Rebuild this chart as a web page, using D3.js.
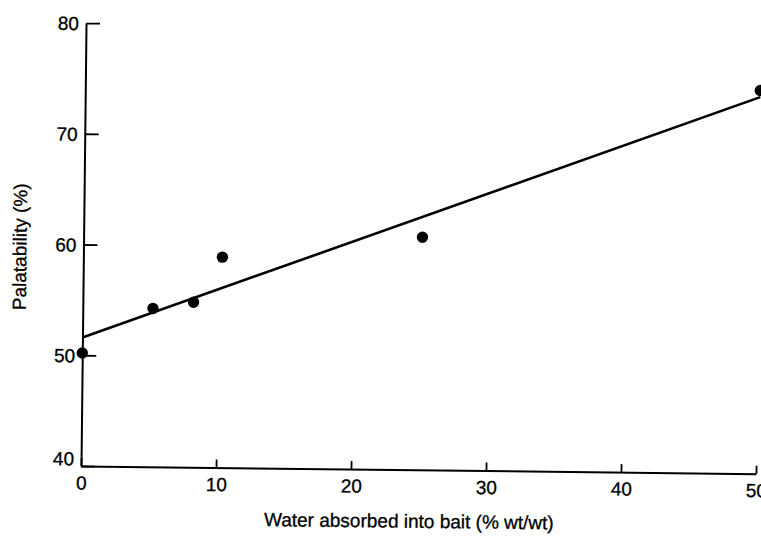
<!DOCTYPE html>
<html>
<head>
<meta charset="utf-8">
<script src="https://cdn.jsdelivr.net/npm/d3@7"></script>
<style>
  html, body { margin: 0; padding: 0; background: #fff; }
  svg { display: block; }
  text { font-family: "Liberation Sans", Arial, Helvetica, sans-serif; fill: #000; }
</style>
</head>
<body>
<script>
// Observations: water absorbed (% wt/wt) vs palatability (%)
const waterAbsorbed = [0, 5.2, 8.2, 10.3, 25.1, 50];
const palatability  = [50.2, 54.3, 54.9, 59.0, 61.0, 74.6];

// Fitted regression line end points
const fitX = [0, 50];
const fitY = [51.6, 74.0];

const xTicks = [0, 10, 20, 30, 40, 50];
const yTicks = [40, 50, 60, 70, 80];

const xTitle = "Water absorbed into bait (% wt/wt)";
const yTitle = "Palatability (%)";

const W = 761, H = 537;
const plotW = 675, plotH = 443;
const originX = 81, originY = 466;
const tilt = 0.65; // slight clockwise tilt of the printed figure

const svg = d3.select("body").append("svg")
  .attr("width", W).attr("height", H);

const g = svg.append("g")
  .attr("transform", `translate(${originX},${originY}) rotate(${tilt})`);

const x = d3.scaleLinear().domain([0, 50]).range([0, plotW]);
const y = d3.scaleLinear().domain([40, 80]).range([0, -plotH]);

// Y axis, ticks pointing into the plot
const yAxis = g.append("g")
  .call(d3.axisLeft(y).tickValues(yTicks).tickFormat(d3.format("d"))
    .tickSizeInner(-14).tickSizeOuter(0).tickPadding(7));
yAxis.select(".domain").attr("stroke", "#000").attr("stroke-width", 2);
yAxis.selectAll(".tick line").attr("stroke", "#000").attr("stroke-width", 1.8);
yAxis.selectAll(".tick text").attr("font-size", 19).attr("fill", "#000")
  .attr("font-family", "Liberation Sans, Arial, sans-serif")
  .attr("stroke", "#000").attr("stroke-width", 0.3)
  .attr("dy", d => d === 40 ? "-0.05em" : "0.35em");

// X axis, ticks pointing up into the plot
const xAxis = g.append("g")
  .call(d3.axisBottom(x).tickValues(xTicks).tickFormat(d3.format("d"))
    .tickSizeInner(-8).tickSizeOuter(0).tickPadding(10));
xAxis.select(".domain").attr("stroke", "#000").attr("stroke-width", 2);
xAxis.selectAll(".tick line").attr("stroke", "#000").attr("stroke-width", 1.8);
xAxis.selectAll(".tick text").attr("font-size", 19).attr("fill", "#000")
  .attr("font-family", "Liberation Sans, Arial, sans-serif")
  .attr("stroke", "#000").attr("stroke-width", 0.3);

// Regression line
const line = d3.line().x(d => x(d[0])).y(d => y(d[1]));
g.append("path")
  .datum(d3.zip(fitX, fitY))
  .attr("d", line)
  .attr("fill", "none")
  .attr("stroke", "#000")
  .attr("stroke-width", 2.6);

// Data points
g.append("g").selectAll("circle")
  .data(d3.zip(waterAbsorbed, palatability))
  .join("circle")
  .attr("cx", d => x(d[0]))
  .attr("cy", d => y(d[1]))
  .attr("r", 5.7)
  .attr("fill", "#000");

// Axis titles
g.append("text")
  .attr("x", plotW / 2 - 9)
  .attr("y", 58)
  .attr("text-anchor", "middle")
  .attr("font-size", 19)
  .attr("stroke", "#000").attr("stroke-width", 0.3)
  .text(xTitle);

g.append("text")
  .attr("transform", `translate(-57,${-plotH / 2 + 3}) rotate(-90)`)
  .attr("text-anchor", "middle")
  .attr("font-size", 19)
  .attr("stroke", "#000").attr("stroke-width", 0.3)
  .text(yTitle);
</script>
</body>
</html>
